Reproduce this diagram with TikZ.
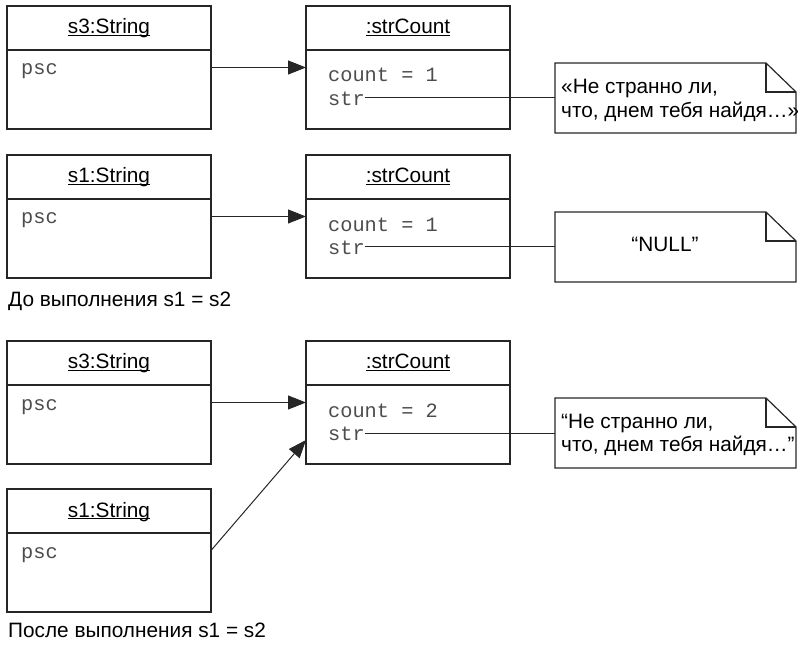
\documentclass[tikz,border=0pt]{standalone}
\usepackage{fontspec}
\setmainfont{Liberation Sans}
\setmonofont{Liberation Mono}
\usetikzlibrary{arrows.meta,calc}
\newcommand\myul[1]{\setbox0\hbox{#1}\rlap{\rule[-2.4pt]{\wd0}{1.1pt}}\box0}
\newcommand\dognote[1]{%
  \draw[notebd] (#1.south west) -- (#1.north west) -- ([xshift=-30pt]#1.north east)
    -- ([yshift=-29pt]#1.north east) -- (#1.south east) -- cycle;
  \draw[notebd] ([xshift=-30pt]#1.north east) |- ([yshift=-29pt]#1.north east);}
\begin{document}
\begin{tikzpicture}[x=1pt,y=-1pt,
  obj/.style={draw=black!85, line width=1.2pt, minimum width=204pt, minimum height=123pt,
    anchor=north west, inner sep=0pt, outer sep=0pt},
  hdr/.style={obj, minimum height=44pt},
  ttl/.style={anchor=base, inner sep=0pt, font=\fontsize{20.8}{24}\selectfont},
  attr/.style={anchor=base west, inner sep=0pt, font=\fontsize{20.3}{24}\selectfont\ttfamily, text=black!70},
  note/.style={minimum width=241pt, minimum height=70pt, anchor=north west, inner sep=0pt, outer sep=0pt},
  notebd/.style={draw=black!85, line width=1.2pt},
  ntext/.style={anchor=base west, inner sep=0pt, font=\fontsize{20.8}{24}\selectfont},
  link/.style={line width=1pt, draw=black!85},
  ptr/.style={link, -{Triangle[length=18pt,width=14pt]}},
]
\useasboundingbox (0,0) rectangle (798,652);

% ---------- Row 1 ----------
\node[obj] (b1) at (7,6) {};
\node[hdr] (b1h) at (7,6) {};
\node[ttl] (b1t) at (109,34) {\myul{s3:String}};
\node[attr] (b1p) at (21,74.5) {psc};

\node[obj] (c1) at (306,6) {};
\node[hdr] (c1h) at (306,6) {};
\node[ttl] (c1t) at (408,34) {\myul{:strCount}};
\node[attr] (c1c) at (328,82) {count = 1};
\node[attr] (c1s) at (328,105.5) {str};

\node[note] (n1) at (555,63) {};
\dognote{n1}
\node[ntext] (n1a) at (561,94) {«Не странно ли,};
\node[ntext] (n1b) at (561,118) {что, днем тебя найдя…»};

\draw[ptr] (b1.east) -- (c1.west);
\draw[link] (c1s.east |- n1.west) -- (n1.west);

% ---------- Row 2 ----------
\node[obj] (b2) at (7,155) {};
\node[hdr] (b2h) at (7,155) {};
\node[ttl] (b2t) at (109,183) {\myul{s1:String}};
\node[attr] (b2p) at (21,224) {psc};

\node[obj] (c2) at (306,155) {};
\node[hdr] (c2h) at (306,155) {};
\node[ttl] (c2t) at (408,183) {\myul{:strCount}};
\node[attr] (c2c) at (328,231.5) {count = 1};
\node[attr] (c2s) at (328,254.5) {str};

\node[note] (n2) at (555,212) {};
\dognote{n2}
\node[ntext, anchor=base] (n2a) at (665,252) {“NULL”};

\draw[ptr] (b2.east) -- (c2.west);
\draw[link] (c2s.east |- n2.west) -- (n2.west);

\node[ntext] (cap1) at (8,307) {До выполнения s1 = s2};

% ---------- Row 3 ----------
\node[obj] (b3) at (7,341) {};
\node[hdr] (b3h) at (7,341) {};
\node[ttl] (b3t) at (109,369) {\myul{s3:String}};
\node[attr] (b3p) at (21,410) {psc};

\node[obj] (c3) at (306,341) {};
\node[hdr] (c3h) at (306,341) {};
\node[ttl] (c3t) at (408,369) {\myul{:strCount}};
\node[attr] (c3c) at (328,417) {count = 2};
\node[attr] (c3s) at (328,440.5) {str};

\node[note] (n3) at (555,398) {};
\dognote{n3}
\node[ntext] (n3a) at (561,428) {“Не странно ли,};
\node[ntext] (n3b) at (561,451) {что, днем тебя найдя…”};

\draw[ptr] (b3.east) -- (c3.west);
\draw[link] (c3s.east |- n3.west) -- (n3.west);

% ---------- Row 4 ----------
\node[obj] (b4) at (7,489) {};
\node[hdr] (b4h) at (7,489) {};
\node[ttl] (b4t) at (109,517) {\myul{s1:String}};
\node[attr] (b4p) at (21,558) {psc};

\coordinate (c3in) at ($(c3.west)+(0,37.5)$);
\draw[ptr] (b4.east) -- (c3in);

\node[ntext] (cap2) at (8,637) {После выполнения s1 = s2};
\end{tikzpicture}
\end{document}
